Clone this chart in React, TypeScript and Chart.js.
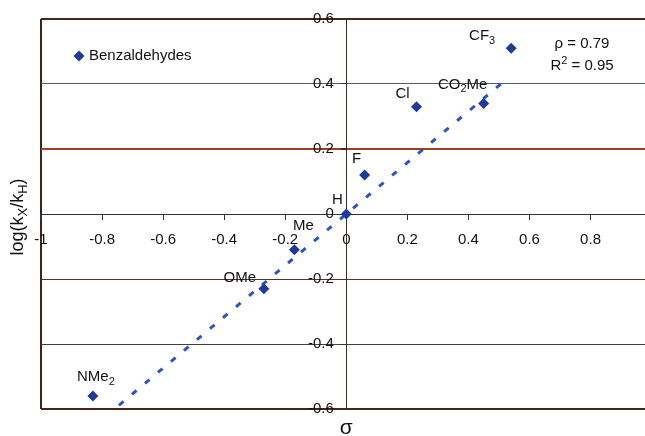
import React, { useEffect, useRef } from "react";
import { Chart, registerables } from "chart.js";

Chart.register(...registerables);

// ---------- data ----------
const substituents = ["NMe_2", "OMe", "Me", "H", "F", "Cl", "CO_2Me", "CF_3"];
const sigmaValues = [-0.83, -0.27, -0.17, 0, 0.06, 0.23, 0.45, 0.54];
const logRatios = [-0.56, -0.23, -0.11, 0, 0.12, 0.33, 0.34, 0.51];
const trendSigma = [-0.83, 0.53];
const trendLog = [-0.656, 0.419];
const xTickValues = [-1, -0.8, -0.6, -0.4, -0.2, 0, 0.2, 0.4, 0.6, 0.8];
const yTickValues = [-0.6, -0.4, -0.2, 0, 0.2, 0.4, 0.6];
const seriesName = "Benzaldehydes";
const fitLines = ["ρ = 0.79", "R^2 = 0.95"];
const xTitle = "σ";
const yTitle = "log(k_X/k_H)";

// ---------- styles ----------
const FAMILY = '"Liberation Sans", Arial, Helvetica, sans-serif';
const POINT_COLOR = "#1f3a9c";
const LINE_COLOR = "#2b55c6";
// label centre offsets (px) relative to each point
const labelOffsets: [number, number][] = [
  [3, -19],
  [-24, -11],
  [9, -24],
  [-9, -14],
  [-8, -16],
  [-14, -13],
  [-21, -19],
  [-29, -12],
];

function fmt(v: number): string {
  const r = Math.round(v * 10) / 10;
  return String(r);
}

function yGridColor(v: number): string {
  const r = Math.round(v * 10) / 10;
  if (r === 0.6 || r === -0.6) return "#4a2414";
  if (r === 0.2) return "#9a4220";
  if (r === -0.2) return "#5a3024";
  if (r === 0.4) return "#4e5e6c";
  if (r === -0.4) return "#4a3c38";
  return "#3a3330";
}

type Seg = { t: string; k: number };
function parseRich(s: string): Seg[] {
  const segs: Seg[] = [];
  let buf = "";
  let i = 0;
  while (i < s.length) {
    const c = s[i];
    if ((c === "_" || c === "^") && i + 1 < s.length) {
      if (buf) {
        segs.push({ t: buf, k: 0 });
        buf = "";
      }
      segs.push({ t: s[i + 1], k: c === "_" ? 1 : -1 });
      i += 2;
    } else {
      buf += c;
      i++;
    }
  }
  if (buf) segs.push({ t: buf, k: 0 });
  return segs;
}

function drawRich(
  ctx: CanvasRenderingContext2D,
  s: string,
  x: number,
  y: number,
  size: number,
  align: "left" | "center" | "right"
) {
  const segs = parseRich(s);
  const fontFor = (k: number) =>
    `${k === 0 ? size : Math.round(size * 0.72)}px ${FAMILY}`;
  let total = 0;
  const widths = segs.map((sg) => {
    ctx.font = fontFor(sg.k);
    const w = ctx.measureText(sg.t).width;
    total += w;
    return w;
  });
  let cx = align === "center" ? x - total / 2 : align === "right" ? x - total : x;
  ctx.textAlign = "left";
  ctx.textBaseline = "middle";
  segs.forEach((sg, i) => {
    ctx.font = fontFor(sg.k);
    const dy = sg.k === 1 ? size * 0.32 : sg.k === -1 ? -size * 0.36 : 0;
    ctx.fillText(sg.t, cx, y + dy);
    cx += widths[i];
  });
}

const overlayPlugin = {
  id: "overlay",
  afterDatasetsDraw(chart: any) {
    const ctx: CanvasRenderingContext2D = chart.ctx;
    const xs = chart.scales.x;
    const ys = chart.scales.y;
    const area = chart.chartArea;
    ctx.save();
    ctx.fillStyle = "#111";
    // point labels
    substituents.forEach((name, i) => {
      const px = xs.getPixelForValue(sigmaValues[i]) + labelOffsets[i][0];
      const py = ys.getPixelForValue(logRatios[i]) + labelOffsets[i][1];
      drawRich(ctx, name, px, py, 15, "center");
    });
    // fit statistics
    fitLines.forEach((t, i) => {
      drawRich(ctx, t, area.left + 541, area.top + 25 + i * 22, 15, "center");
    });
    // legend
    const lx = area.left + 38;
    const ly = area.top + 37;
    ctx.fillStyle = POINT_COLOR;
    ctx.beginPath();
    ctx.moveTo(lx, ly - 5.5);
    ctx.lineTo(lx + 5.5, ly);
    ctx.lineTo(lx, ly + 5.5);
    ctx.lineTo(lx - 5.5, ly);
    ctx.closePath();
    ctx.fill();
    ctx.fillStyle = "#111";
    drawRich(ctx, seriesName, lx + 10, ly, 15, "left");
    // axis titles
    drawRich(ctx, xTitle, xs.getPixelForValue(0), area.bottom + 19, 21, "center");
    ctx.save();
    ctx.translate(18, (area.top + area.bottom) / 2 + 3);
    ctx.rotate(-Math.PI / 2);
    drawRich(ctx, yTitle, 0, 0, 18, "center");
    ctx.restore();
    ctx.restore();
  },
};

export default function App() {
  const canvasRef = useRef<HTMLCanvasElement | null>(null);

  useEffect(() => {
    const canvas = canvasRef.current;
    if (!canvas) return;
    const points = sigmaValues.map((x, i) => ({ x, y: logRatios[i] }));
    const trend = trendSigma.map((x, i) => ({ x, y: trendLog[i] }));
    const chart = new Chart(canvas, {
      type: "scatter",
      data: {
        datasets: [
          {
            label: "Trend",
            data: trend,
            showLine: true,
            borderColor: LINE_COLOR,
            borderWidth: 3,
            borderDash: [6, 11],
            pointRadius: 0,
            fill: false,
            order: 2,
          } as any,
          {
            label: seriesName,
            data: points,
            pointStyle: "rectRot",
            pointRadius: 5.5,
            pointBackgroundColor: POINT_COLOR,
            pointBorderColor: POINT_COLOR,
            borderWidth: 0,
            showLine: false,
            order: 1,
          } as any,
        ],
      },
      options: {
        responsive: false,
        animation: false,
        devicePixelRatio: 1,
        layout: { padding: { left: 41, top: 19, right: 0, bottom: 27 } },
        plugins: {
          legend: { display: false },
          tooltip: { enabled: false },
        },
        scales: {
          x: {
            type: "linear",
            min: -1,
            max: 0.98,
            position: { y: 0 } as any,
            afterBuildTicks: (s: any) => {
              s.ticks = xTickValues.map((v) => ({ value: v }));
            },
            grid: {
              drawOnChartArea: true,
              drawTicks: true,
              tickLength: 5,
              tickColor: "#333",
              color: (c: any) =>
                c.tick && c.tick.value === -1 ? "#3b2418" : "rgba(0,0,0,0)",
              lineWidth: (c: any) => (c.tick && c.tick.value === -1 ? 2 : 1),
            },
            border: { display: true, color: "#333", width: 1 },
            ticks: {
              autoSkip: false,
              maxRotation: 0,
              padding: 12,
              color: "#111",
              font: { family: FAMILY, size: 15 },
              callback: (v: any) => fmt(Number(v)),
            },
          },
          y: {
            type: "linear",
            min: -0.6,
            max: 0.6,
            position: { x: 0 } as any,
            afterBuildTicks: (s: any) => {
              s.ticks = yTickValues.map((v) => ({ value: v }));
            },
            grid: {
              drawOnChartArea: true,
              drawTicks: true,
              tickLength: 5,
              tickColor: "#333",
              color: (c: any) => (c.tick ? yGridColor(c.tick.value) : "#333"),
              lineWidth: (c: any) => {
                if (!c.tick) return 1;
                const r = Math.round(c.tick.value * 10) / 10;
                return r === 0.6 || r === -0.6 || r === 0.2 ? 2 : 1;
              },
            },
            border: { display: true, color: "#3a2a22", width: 1 },
            ticks: {
              padding: 4,
              color: "#111",
              font: { family: FAMILY, size: 15 },
              callback: (v: any) => fmt(Number(v)) + "   ",
            },
          },
        },
      } as any,
      plugins: [overlayPlugin],
    });
    return () => chart.destroy();
  }, []);

  return (
    <div
      style={{
        position: "absolute",
        left: 0,
        top: 0,
        width: 645,
        height: 436,
        overflow: "hidden",
        background: "#fff",
      }}
    >
      <canvas ref={canvasRef} width={651} height={436} />
    </div>
  );
}
